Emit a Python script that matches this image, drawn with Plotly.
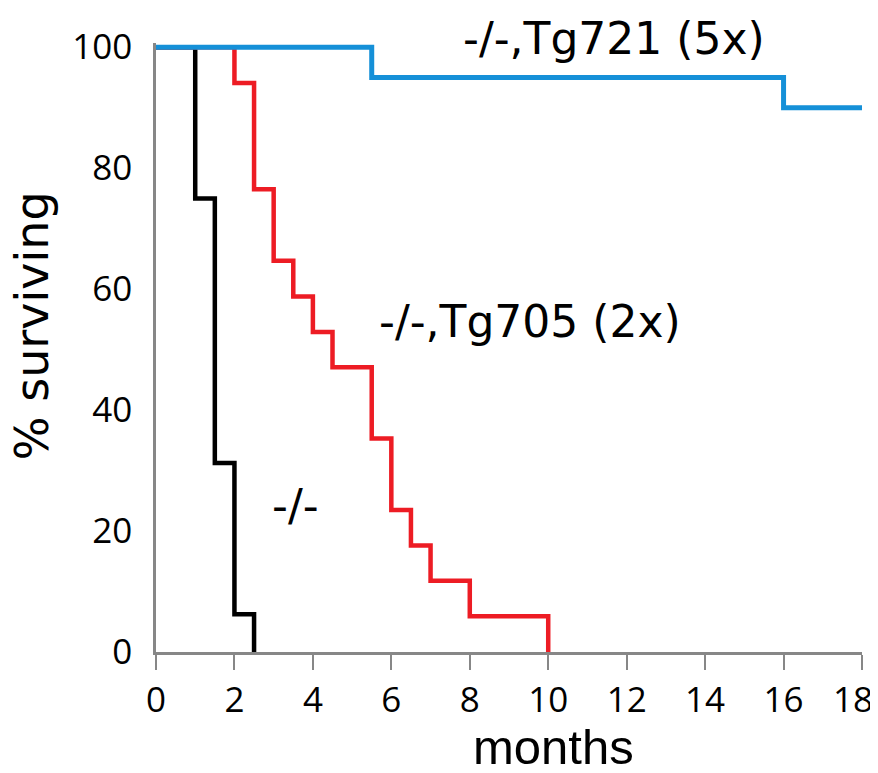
import plotly.graph_objects as go

# Data (Kaplan-Meier style step curves)
ko_months = [0, 1.0, 1.5, 2.0, 2.5]
ko_surv = [100, 75.0, 31.25, 6.25, 0]

tg705_months = [0, 2.0, 2.5, 3.0, 3.5, 4.0, 4.5, 5.5, 6.0, 6.5, 7.0, 8.0, 10.0]
tg705_surv = [100, 94.1, 76.5, 64.7, 58.8, 52.9, 47.1, 35.3, 23.5, 17.6, 11.8, 5.9, 0]

tg721_months = [0, 5.5, 16.0, 18.0]
tg721_surv = [100, 95, 90, 90]

x_ticks = [0, 2, 4, 6, 8, 10, 12, 14, 16, 18]
y_ticks = [0, 20, 40, 60, 80, 100]

labels = ["-/-", "-/-,Tg705 (2x)", "-/-,Tg721 (5x)"]

# page has an 8px body margin; figure is sized to fill the rest of the window
OFF = 8
W, H = 878 - OFF, 773 - OFF
Y_TOP = 100.7
# target plot-area pixels in page coordinates
L_pg, R_pg, Y100_pg, Y0_pg = 156, 862, 47, 652
ppu = (Y0_pg - Y100_pg) / 100.0
T_pg = Y100_pg - (Y_TOP - 100) * ppu
L, R, T, B = L_pg - OFF, R_pg - OFF, T_pg - OFF, Y0_pg - OFF


def px_to_paper(xp, yp):
    # page pixel -> paper coords
    return (xp - L_pg) / (R_pg - L_pg), (Y0_pg - yp) / (Y0_pg - T_pg)


fig = go.Figure()
fig.add_trace(go.Scatter(x=ko_months, y=ko_surv, mode="lines", line=dict(color="#000000", width=4.5, shape="hv"),
                         name=labels[0]))
fig.add_trace(go.Scatter(x=tg705_months, y=tg705_surv, mode="lines", line=dict(color="#ED1C24", width=4.5, shape="hv"),
                         name=labels[1]))
fig.add_trace(go.Scatter(x=tg721_months, y=tg721_surv, mode="lines", line=dict(color="#1590D8", width=5, shape="hv"),
                         name=labels[2]))

ann_font = dict(family="DejaVu Sans", size=44, color="#000000")
ax, ay = px_to_paper(614, 38)
fig.add_annotation(xref="paper", yref="paper", x=ax, y=ay, text=labels[2], showarrow=False, font=ann_font,
                   xanchor="center", yanchor="middle")
ax, ay = px_to_paper(530, 321)
fig.add_annotation(xref="paper", yref="paper", x=ax, y=ay, text=labels[1], showarrow=False, font=ann_font,
                   xanchor="center", yanchor="middle")
ax, ay = px_to_paper(295, 505)
fig.add_annotation(xref="paper", yref="paper", x=ax, y=ay, text=labels[0], showarrow=False, font=ann_font,
                   xanchor="center", yanchor="middle")

ax, ay = px_to_paper(32, 326)
fig.add_annotation(xref="paper", yref="paper", x=ax, y=ay, text="% surviving", textangle=-90, showarrow=False,
                   font=dict(family="DejaVu Sans", size=46, color="#000000"), xanchor="center", yanchor="middle")
ax, ay = px_to_paper(553, 747)
fig.add_annotation(xref="paper", yref="paper", x=ax, y=ay, text="months", showarrow=False,
                   font=dict(family="Liberation Sans", size=49, color="#000000"), xanchor="center", yanchor="middle")

x_text = [str(v) for v in x_ticks]
x_text[-1] = x_text[-1] + "\u00a0\u00a0"  # keep the last label inside the page, as in the reference

fig.update_layout(
    width=W, height=H,
    margin=dict(l=L, r=W - R, t=T, b=H - B, autoexpand=False),
    paper_bgcolor="white", plot_bgcolor="white",
    showlegend=False,
    font=dict(family="Open Sans", size=35, color="#000000"),
)
fig.update_xaxes(range=[0, 18], tickvals=x_ticks, ticktext=x_text, showgrid=False, zeroline=False,
                 showline=True, linecolor="#878787", linewidth=2.5, ticks="outside", ticklen=15, tickwidth=2,
                 tickcolor="#878787", ticklabelstandoff=0, automargin=False, ticklabeloverflow="allow")
fig.update_yaxes(range=[0, Y_TOP], tickvals=y_ticks, ticktext=[str(v) for v in y_ticks], showgrid=False, zeroline=False,
                 showline=True, linecolor="#878787", linewidth=2.5, ticks="", ticklabelstandoff=14, automargin=False,
                 ticklabeloverflow="allow")

fig.write_html("out.html")
